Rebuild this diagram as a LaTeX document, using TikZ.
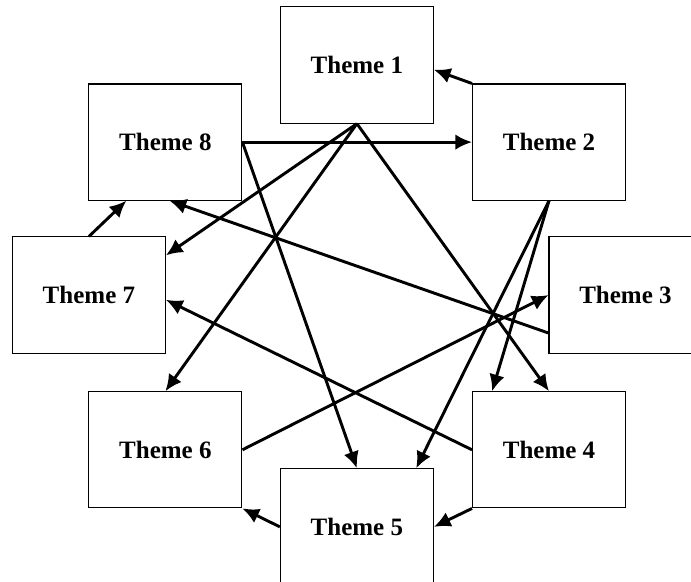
\documentclass[tikz,border=0pt]{standalone}
\usepackage{fontspec}
\setmainfont{Liberation Serif}
\usepackage{tikz}
\usetikzlibrary{arrows.meta}
\usetikzlibrary{positioning}
\tikzstyle{block} = [rectangle, draw, line width=0.5pt, font=\fontsize{12}{14}\selectfont\bfseries, text centered, minimum width=2.58cm, minimum height=1.96cm]
\tikzstyle{line} = [draw, line width=1.4pt, -{Latex[length=8pt,width=7.5pt]}]
\begin{document}
\begin{tikzpicture}[node distance = 2cm, auto]
            \useasboundingbox (-6.02,1.097) rectangle (5.635,-8.705);
            % Place nodes
            \node [block] (t1) {Theme 1};
            \node [block, right of=t1, node distance=3.24cm, yshift=-1.30cm] (t2) {Theme 2};
            \node [block, right of=t1, node distance=4.53cm, yshift=-3.88cm] (t3) {Theme 3};
            \node [block, right of=t1, node distance=3.24cm, yshift=-6.49cm] (t4) {Theme 4};
            \node [block, below of=t1, node distance=7.79cm] (t5) {Theme 5};
            \node [block, left of=t1, node distance=3.23cm, yshift=-6.49cm] (t6) {Theme 6};
            \node [block, left of=t1, node distance=4.52cm, yshift=-3.88cm] (t7) {Theme 7};
            \node [block, left of=t1, node distance=3.23cm, yshift=-1.30cm] (t8) {Theme 8};
            % Draw edges
            \path [line] (t2.north west) -- ([yshift=-0.08cm]t1.east);
            \path [line] (t8.east) -- (t2.west);
            \path [line] (t8.east) -- (t5.north);
            \path [line] (t1.south) -- ([yshift=0.67cm]t7.east);
            \path [line] (t1.south) -- (t6.north);
            \path [line] (t1.south) -- (t4.north);
            \path [line] (t2.south) -- ([xshift=-0.96cm]t4.north);
            \path [line] (t2.south) -- ([xshift=1.0cm]t5.north);
            \path [line] ([yshift=-0.64cm]t3.west) -- ([xshift=0.07cm]t8.south);
            \path [line] (t7.north) -- ([xshift=-0.66cm]t8.south);
            \path [line] (t6.east) -- (t3.west);
            \path [line] (t4.west) -- ([yshift=-0.08cm]t7.east);
            \path [line] (t5.west) -- (t6.south east);
            \path [line] (t4.south west) -- (t5.east);
\end{tikzpicture}
\end{document}
